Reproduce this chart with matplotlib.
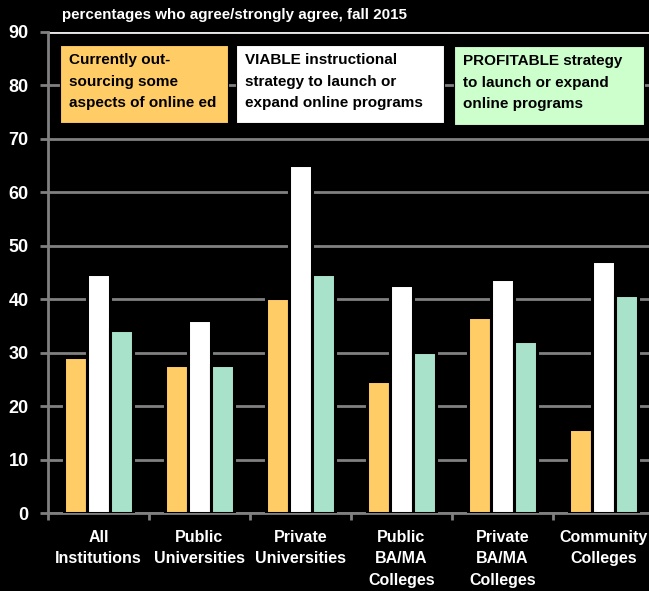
import matplotlib
matplotlib.use("Agg")
import matplotlib.pyplot as plt
from matplotlib.patches import Rectangle
import numpy as np

categories = ["All\nInstitutions", "Public\nUniversities", "Private\nUniversities",
              "Public\nBA/MA\nColleges", "Private\nBA/MA\nColleges", "Community\nColleges"]
outsourcing = [29.2, 27.7, 40.2, 24.7, 36.7, 15.7]
viable = [44.7, 36.2, 65.2, 42.7, 43.7, 47.2]
profitable = [34.2, 27.7, 44.7, 30.2, 32.2, 40.7]
yticks = [0, 10, 20, 30, 40, 50, 60, 70, 80, 90]

title = "percentages who agree/strongly agree, fall 2015"
leg_texts = ["Currently out-\nsourcing some\naspects of online ed",
             "VIABLE instructional\nstrategy to launch or\nexpand online programs",
             "PROFITABLE strategy\nto launch or expand\nonline programs"]

c_orange = "#FFCC66"
c_white = "#FFFFFF"
c_teal = "#A9E2CA"
c_green = "#CCFFCC"
grid_c = "#808080"

FONT = ["Liberation Sans Narrow", "Liberation Sans", "DejaVu Sans"]
plt.rcParams['font.family'] = FONT

W, H = 649, 591
fig = plt.figure(figsize=(W / 100, H / 100), dpi=100, facecolor="black")

def px(x0, y0, x1, y1):
    return [x0 / W, 1 - y1 / H, (x1 - x0) / W, (y1 - y0) / H]

ax = fig.add_axes(px(48, 32, 654, 513))
ax.set_facecolor("black")

x = np.arange(len(categories))
bw = 0.228
for off, vals, col in [(-bw, outsourcing, c_orange), (0, viable, c_white), (bw, profitable, c_teal)]:
    ax.bar(x + off, vals, width=bw, color=col, edgecolor="black", linewidth=2.2, zorder=3)

ax.set_xlim(-0.5, len(categories) - 0.5)
ax.set_ylim(0, 90)
ax.set_yticks(yticks)
ax.set_yticklabels([str(v) for v in yticks], color="white", fontsize=13, fontweight="bold")
ax.yaxis.grid(True, color=grid_c, linewidth=2, zorder=0)
ax.set_axisbelow(True)
ax.axhline(90, color="#E6E6E6", linewidth=2, zorder=2)

ax.set_xticks(x)
ax.set_xticklabels(categories, color="white", fontsize=11.5, fontweight="bold", linespacing=1.55)
ax.set_xticks(np.arange(-0.5, len(categories)), minor=True)
ax.tick_params(axis="x", which="major", length=0, pad=12)
ax.tick_params(axis="x", which="minor", length=5, width=2, color=grid_c)
ax.tick_params(axis="y", length=6, width=2, color=grid_c, pad=8)

for s in ["top", "right"]:
    ax.spines[s].set_visible(False)
for s in ["left", "bottom"]:
    ax.spines[s].set_color(grid_c)
    ax.spines[s].set_linewidth(2)

fig.text(62 / W, 1 - 15 / H, title, color="white", fontsize=10.9, fontweight="bold",
         va="center", ha="left")

boxes = [(60, 45, 228, 123, c_orange, 69),
         (236, 45, 444, 123, c_white, 245),
         (454, 46, 644, 125, c_green, 463)]
for (x0, y0, x1, y1, col, tx), txt in zip(boxes, leg_texts):
    fig.patches.append(Rectangle((x0 / W, 1 - y1 / H), (x1 - x0) / W, (y1 - y0) / H,
                                 transform=fig.transFigure, facecolor=col,
                                 edgecolor="black", linewidth=0.8, zorder=5))
    fig.text(tx / W, 1 - (y0 + 8) / H, txt, color="black", fontsize=11, fontweight="bold",
             va="top", ha="left", linespacing=1.7, zorder=6)

fig.savefig("out.png", dpi=100, facecolor="black")
